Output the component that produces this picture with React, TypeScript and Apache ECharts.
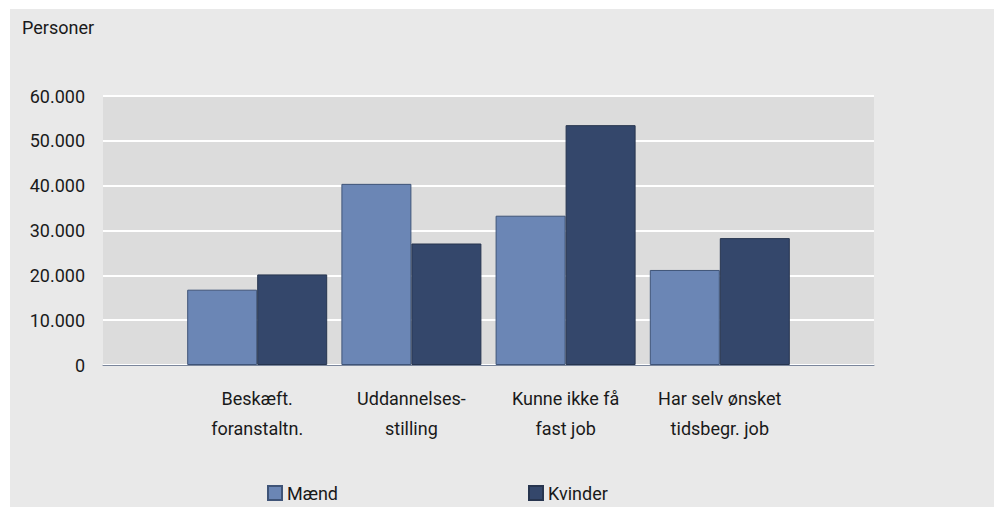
import React, { useEffect, useRef } from "react";
import * as echarts from "echarts";

const categories = [
  "Beskæft.\nforanstaltn.",
  "Uddannelses-\nstilling",
  "Kunne ikke få\nfast job",
  "Har selv ønsket\ntidsbegr. job",
];
const maend = [16800, 40400, 33300, 21200];
const kvinder = [20200, 27100, 53500, 28300];
const yTicks = { min: 0, max: 60000, interval: 10000 };
const seriesNames = ["Mænd", "Kvinder"];

const FONT = "Roboto";
const TEXT = "#1a1a1a";

export default function App() {
  const ref = useRef<HTMLDivElement>(null);
  useEffect(() => {
    if (!ref.current) return;
    const chart = echarts.init(ref.current, undefined, { renderer: "svg" });
    const pad = (arr: number[]) => ["-", ...arr, "-"];
    chart.setOption({
      animation: false,
      textStyle: { fontFamily: FONT },
      graphic: [
        {
          type: "text",
          left: 22,
          top: 18,
          style: { text: "Personer", fontSize: 18, fontFamily: FONT, fill: TEXT },
        },
      ],
      grid: {
        left: 103,
        right: 123,
        top: 96,
        bottom: 145,
        show: true,
        backgroundColor: "#dcdcdc",
        borderWidth: 0,
      },
      legend: [
        {
          data: [seriesNames[0]],
          left: 267,
          top: 484,
          padding: 0,
          itemWidth: 14,
          itemHeight: 14,
          icon: "rect",
          textStyle: { fontSize: 18, color: TEXT, fontFamily: FONT },
        },
        {
          data: [seriesNames[1]],
          left: 528,
          top: 484,
          padding: 0,
          itemWidth: 14,
          itemHeight: 14,
          icon: "rect",
          textStyle: { fontSize: 18, color: TEXT, fontFamily: FONT },
        },
      ],
      xAxis: {
        type: "category",
        boundaryGap: false,
        data: ["", ...categories, ""],
        axisTick: { show: false },
        axisLine: { show: true, lineStyle: { color: "#7a869c", width: 1 } },
        axisLabel: {
          interval: 0,
          fontSize: 18,
          lineHeight: 30,
          margin: 18,
          color: TEXT,
          fontFamily: FONT,
        },
        splitLine: { show: false },
      },
      yAxis: {
        type: "value",
        min: yTicks.min,
        max: yTicks.max,
        interval: yTicks.interval,
        axisLine: { show: false },
        axisTick: { show: false },
        axisLabel: {
          fontSize: 18,
          margin: 18,
          color: TEXT,
          fontFamily: FONT,
          formatter: (v: number) =>
            String(v).replace(/\B(?=(\d{3})+(?!\d))/g, "."),
        },
        splitLine: { show: true, lineStyle: { color: "#ffffff", width: 2 } },
      },
      series: [
        {
          name: seriesNames[0],
          type: "bar",
          data: pad(maend),
          barWidth: 70,
          barGap: "0%",
          itemStyle: { color: "#6b86b5", borderColor: "#3f5478", borderWidth: 1 },
        },
        {
          name: seriesNames[1],
          type: "bar",
          data: pad(kvinder),
          barWidth: 70,
          barGap: "0%",
          itemStyle: { color: "#34476b", borderColor: "#27354f", borderWidth: 1 },
        },
      ],
    });
    return () => chart.dispose();
  }, []);

  return (
    <div style={{ position: "absolute", left: 0, top: 0, width: 997, height: 510, background: "#ffffff" }}>
      <div style={{ position: "absolute", left: 10, top: 9, width: 984, height: 498, background: "#e9e9e9" }} />
      <div ref={ref} style={{ position: "absolute", left: 0, top: 0, width: 997, height: 510 }} />
    </div>
  );
}
